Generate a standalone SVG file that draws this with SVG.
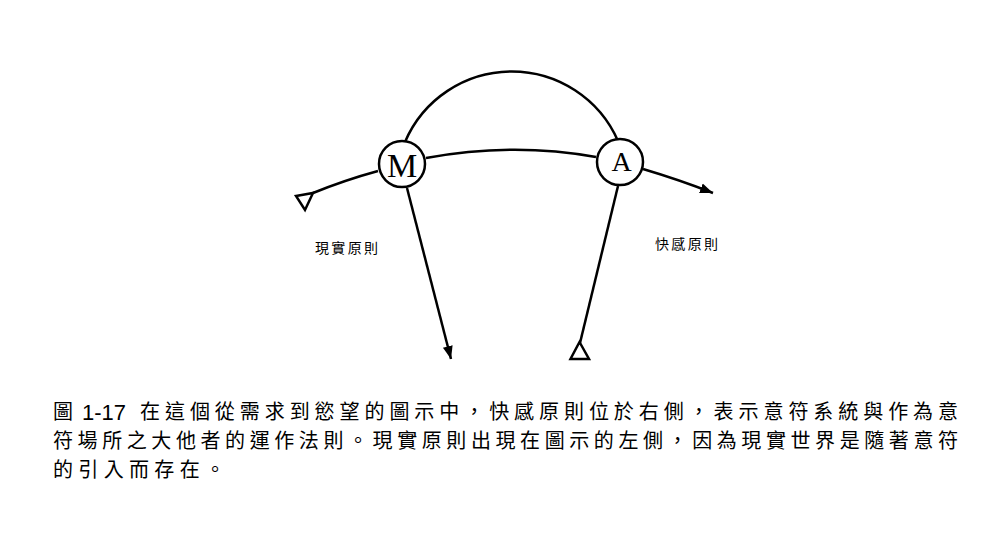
<svg xmlns="http://www.w3.org/2000/svg" width="998" height="540" viewBox="0 0 998 540">
<style>
.ln{fill:none;stroke:#000;stroke-width:2.5}
.node{fill:#fff;stroke:#000;stroke-width:2.5}
.nt{font-family:"Liberation Serif","Times New Roman",serif;fill:#000;text-anchor:middle}
.lab{font-family:"Noto Sans CJK TC","Noto Sans CJK SC",sans-serif;font-size:14px;fill:#000}
.cj{font-family:"Noto Sans CJK TC","Noto Sans CJK SC",sans-serif;font-size:20px;fill:#000}
.lat{font-family:"Liberation Sans",sans-serif;font-size:22px}
.tri{fill:#fff;stroke:#000;stroke-width:2.5;stroke-linejoin:miter}
</style>
<defs>
<marker id="arr" markerUnits="userSpaceOnUse" markerWidth="14" markerHeight="12" viewBox="0 0 14 12" refX="13" refY="6" orient="auto">
<path d="M0,1 L13,6 L0,11 Z" fill="#000"/>
</marker>
</defs>
<rect width="998" height="540" fill="#fff"/>
<g id="connectors">
<path class="ln" d="M405,142 A116,116 0 0 1 618,141"/>
<path class="ln" d="M426,158 Q513,142 596,157"/>
<path class="ln" d="M378,171 Q345,180 313,193"/>
<polygon class="tri" points="296,196 313,193 305,210"/>
<path class="ln" d="M643,169 Q680,180 713,193" marker-end="url(#arr)"/>
<path class="ln" d="M407,188 L451,359" marker-end="url(#arr)"/>
<path class="ln" d="M618,186 L580,343"/>
<polygon class="tri" points="579.5,342 570.5,359 589,359"/>
</g>
<g id="node-M">
<circle class="node" cx="402" cy="164" r="23"/>
<text class="nt" x="402" y="177" font-size="34">M</text>
</g>
<g id="node-A">
<circle class="node" cx="620" cy="162" r="23"/>
<text class="nt" x="621.5" y="171" font-size="28">A</text>
</g>
<g id="labels">
<text class="lab" x="315" y="253" textLength="63" lengthAdjust="spacing">現實原則</text>
<text class="lab" x="655" y="249" textLength="63" lengthAdjust="spacing">快感原則</text>
</g>
<g id="caption">
<text class="cj"><tspan x="53" y="419">圖</tspan><tspan class="lat" x="82" y="420">1-17</tspan><tspan x="140" y="419" textLength="818" lengthAdjust="spacing">在這個從需求到慾望的圖示中，快感原則位於右側，表示意符系統與作為意</tspan><tspan x="53" y="448" textLength="905" lengthAdjust="spacing">符場所之大他者的運作法則。現實原則出現在圖示的左側，因為現實世界是隨著意符</tspan><tspan x="53" y="477" textLength="172" lengthAdjust="spacing">的引入而存在。</tspan></text>
</g>
</svg>
